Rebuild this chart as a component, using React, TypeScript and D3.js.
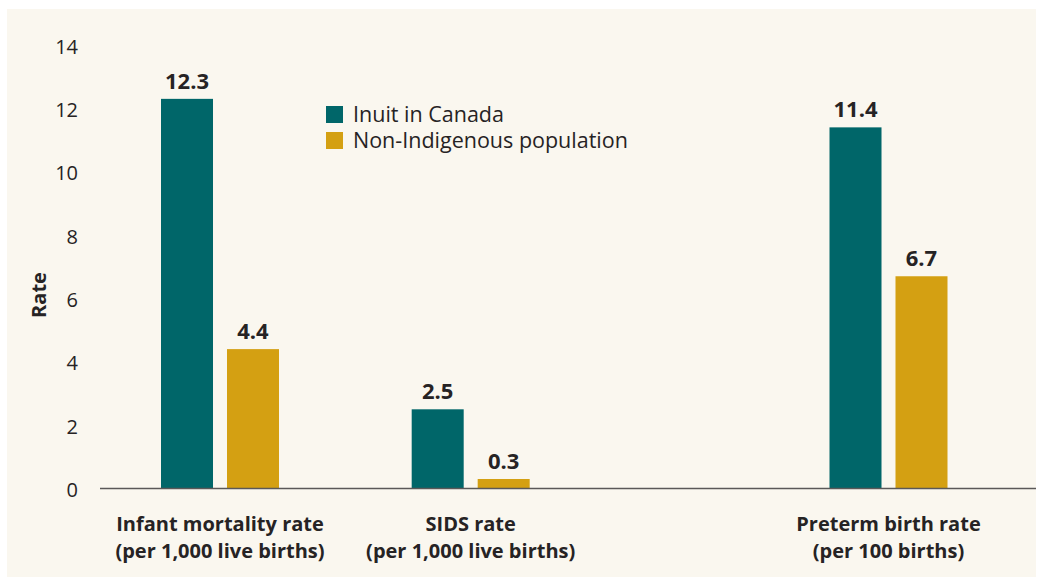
import React from "react";
import * as d3 from "d3";

const categories = ["Infant mortality rate|(per 1,000 live births)", "SIDS rate|(per 1,000 live births)", "Preterm birth rate|(per 100 births)"];
const seriesNames = ["Inuit in Canada", "Non-Indigenous population"];
const inuitValues = [12.3, 2.5, 11.4];
const nonIndigenousValues = [4.4, 0.3, 6.7];
const yTicks = [0, 2, 4, 6, 8, 10, 12, 14];

const W = 1038;
const H = 581;
const COLORS = ["#006669", "#d4a012"];
const TEXT = "#262324";
const FONT = "'Open Sans', 'Noto Sans', sans-serif";

export default function App() {
  const y = d3.scaleLinear().domain([0, 14]).range([488.5, 45]);
  // group layout slots (uneven spacing as in reference)
  const groupSlots = [0, 3, 8];
  const xSlot = d3.scaleLinear().domain([0, 8]).range([220, 888.5]);
  const inner = d3.scaleBand<string>().domain(seriesNames).range([-59, 59]).paddingInner(0.212);
  const series = [inuitValues, nonIndigenousValues];

  return (
    <svg width={W} height={H} style={{ position: "absolute", left: 0, top: 0, display: "block" }} fontFamily={FONT}>
      <rect x={7} y={9} width={1029} height={568} fill="#faf7ef" />
      {/* y tick labels */}
      {yTicks.map((t) => (
        <text key={t} x={78} y={y(t) + 1.5} dy="0.35em" textAnchor="end" fontSize={20} fill={TEXT}>
          {t}
        </text>
      ))}
      <text transform={`translate(46,295) rotate(-90)`} textAnchor="middle" fontSize={20} fontWeight="bold" fill={TEXT}>
        Rate
      </text>
      {/* bars */}
      {categories.map((c, i) => {
        const cx = xSlot(groupSlots[i]);
        return (
          <g key={c}>
            {seriesNames.map((s, j) => {
              const v = series[j][i];
              const x0 = cx + (inner(s) as number);
              return (
                <g key={s}>
                  <rect x={x0} y={y(v)} width={inner.bandwidth()} height={y(0) - y(v)} fill={COLORS[j]} />
                  <text x={x0 + inner.bandwidth() / 2} y={y(v) - 10} textAnchor="middle" fontSize={22} fontWeight="bold" fill={TEXT}>
                    {v.toFixed(1)}
                  </text>
                </g>
              );
            })}
            {c.split("|").map((line, k) => (
              <text key={k} x={cx} y={531 + k * 26.5} textAnchor="middle" fontSize={20} fontWeight="bold" fill={TEXT}>
                {line}
              </text>
            ))}
          </g>
        );
      })}
      {/* x axis line */}
      <line x1={100} x2={1036} y1={y(0)} y2={y(0)} stroke="#5a5858" strokeWidth={1.5} />
      {/* legend */}
      {seriesNames.map((s, j) => (
        <g key={s} transform={`translate(326,${106 + j * 26})`}>
          <rect width={17} height={17} fill={COLORS[j]} />
          <text x={27} y={16} fontSize={21.5} fill={TEXT}>
            {s}
          </text>
        </g>
      ))}
    </svg>
  );
}
